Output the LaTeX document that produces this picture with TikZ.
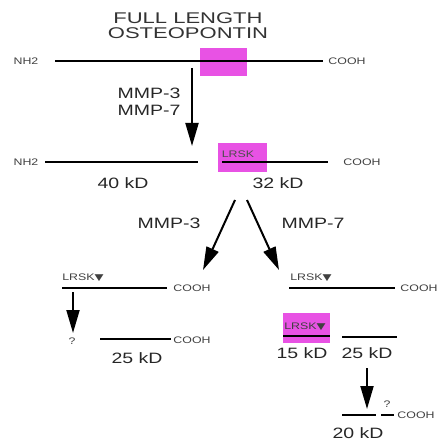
\documentclass[tikz,border=0pt]{standalone}
\usepackage{graphicx}
\usepackage{fontspec}
\setmainfont{Liberation Sans}
\newfontfamily\trifont{DejaVu Sans}
\usepackage{tikz}
\usetikzlibrary{arrows.meta, positioning}

\definecolor{sitepink}{RGB}{232,82,228}
\newcommand{\wide}[1]{\scalebox{1.3}[1]{#1}}
\newcommand{\lrsk}{\wide{LRSK{\trifont\fontsize{9}{9}\selectfont\raisebox{.3pt}{▼}}}}

\begin{document}
\begin{tikzpicture}[x=1pt, y=-1pt,
  chain/.style={line width=2.1pt},
  cleave/.style={line width=2pt, -{Triangle[length=23pt, width=13pt]}},
  site/.style={rectangle, fill=sitepink, draw=none, minimum width=47pt, minimum height=28pt, inner sep=0pt},
  term/.style={font=\fontsize{9.5}{10}\selectfont, text=black!75, inner sep=1pt},
  enzyme/.style={font=\fontsize{15}{17}\selectfont, align=center, text=black!85},
  mass/.style={font=\fontsize{15}{16}\selectfont, text=black!85}
]
  \useasboundingbox (0,0) rectangle (438,443);

  % full length protein
  \node[font=\fontsize{15.5}{15}\selectfont, align=center, text=black!80] (title) at (188,26) {\scalebox{1.42}[1]{FULL LENGTH}\\\scalebox{1.42}[1]{OSTEOPONTIN}};
  \node[site] (box1) at (223.5,62) {};
  \node[term] (nh2a) at (26,61) {\wide{NH2}};
  \node[term] (cooha) at (347,61) {\wide{COOH}};
  \coordinate (l1a) at (55,61);
  \coordinate (l1b) at (323,61);
  \draw[chain] (l1a) -- (l1b);

  % first cleavage
  \coordinate (c1s) at (192,68);
  \coordinate (c1e) at (192,146);
  \draw[cleave] (c1s) -- (c1e);
  \node[enzyme] (mmpboth) at (149,102) {\wide{MMP-3}\\\wide{MMP-7}};

  % 40 kD + 32 kD
  \node[site, minimum width=49pt, minimum height=29pt] (box2) at (242.5,157.5) {};
  \node[term, text=black!70] (lrska) at (238,154) {\wide{LRSK}};
  \node[term] (nh2b) at (26,162) {\wide{NH2}};
  \node[term] (coohb) at (362,162) {\wide{COOH}};
  \coordinate (l2a) at (45,162);
  \coordinate (l2b) at (198,162);
  \coordinate (l2c) at (222,162);
  \coordinate (l2d) at (328,162);
  \draw[chain] (l2a) -- (l2b);
  \draw[chain] (l2c) -- (l2d);
  \node[mass] (kd40) at (123,183) {\wide{40 kD}};
  \node[mass] (kd32) at (278,183) {\wide{32 kD}};

  % second cleavage
  \coordinate (c2s) at (235,200);
  \coordinate (c2e) at (203,270);
  \coordinate (c3s) at (247,200);
  \coordinate (c3e) at (279,270);
  \draw[cleave] (c2s) -- (c2e);
  \draw[cleave] (c3s) -- (c3e);
  \node[enzyme] (mmp3) at (169,223) {\wide{MMP-3}};
  \node[enzyme] (mmp7) at (313,223) {\wide{MMP-7}};

  % MMP-3 branch
  \node[term] (lrskb) at (83,278) {\lrsk};
  \node[term] (coohc) at (192,288) {\wide{COOH}};
  \coordinate (l3a) at (62,288);
  \coordinate (l3b) at (167,288);
  \draw[chain] (l3a) -- (l3b);
  \coordinate (c4s) at (73,292);
  \coordinate (c4e) at (73,333);
  \draw[cleave] (c4s) -- (c4e);
  \node[term] (qa) at (72,341) {\wide{?}};
  \node[term] (coohd) at (192,340) {\wide{COOH}};
  \coordinate (l4a) at (100,339);
  \coordinate (l4b) at (171,339);
  \draw[chain] (l4a) -- (l4b);
  \node[mass] (kd25a) at (137,358) {\wide{25 kD}};

  % MMP-7 branch
  \node[term] (lrskc) at (311,278) {\lrsk};
  \node[term] (coohe) at (419,288) {\wide{COOH}};
  \coordinate (l5a) at (289,288);
  \coordinate (l5b) at (395,288);
  \draw[chain] (l5a) -- (l5b);
  \node[site, minimum height=30pt] (box3) at (306.5,328) {};
  \node[term] (lrskd) at (305,327) {\lrsk};
  \coordinate (l6a) at (283,336);
  \coordinate (l6b) at (330,336);
  \draw[chain] (l6a) -- (l6b);
  \node[mass] (kd15) at (302,353) {\wide{15 kD}};
  \coordinate (l7a) at (342,337);
  \coordinate (l7b) at (397,337);
  \draw[chain] (l7a) -- (l7b);
  \node[mass] (kd25b) at (367,353) {\wide{25 kD}};
  \coordinate (c5s) at (367,368);
  \coordinate (c5e) at (367,409);
  \draw[cleave] (c5s) -- (c5e);
  \coordinate (l8a) at (342,415);
  \coordinate (l8b) at (376,415);
  \coordinate (l8c) at (381,415);
  \coordinate (l8d) at (394,415);
  \draw[chain] (l8a) -- (l8b);
  \draw[chain] (l8c) -- (l8d);
  \node[term] (qb) at (387,404) {\wide{?}};
  \node[term] (cooh8) at (416,415) {\wide{COOH}};
  \node[mass] (kd20) at (358,433) {\wide{20 kD}};
\end{tikzpicture}
\end{document}
